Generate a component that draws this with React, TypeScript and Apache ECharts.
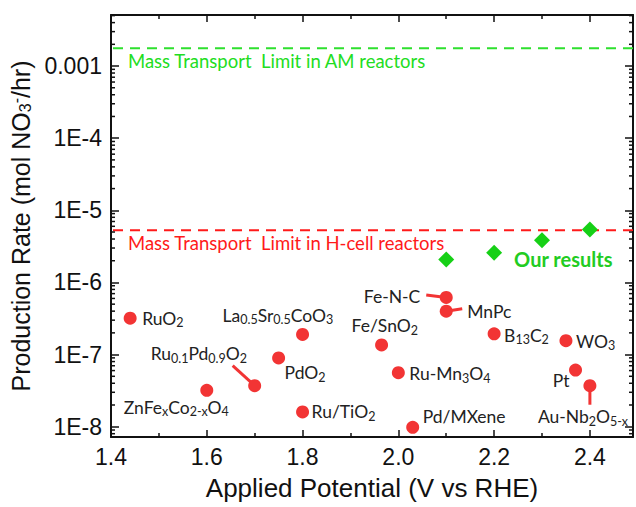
import React, { useEffect, useRef } from 'react';
import * as echarts from 'echarts';

// ---------- data ----------
const X_MIN = 1.4;
const X_MAX = 2.49;
const Y_MIN = 7.2e-9;
const Y_MAX = 5.1e-3;

const CATALYST_NAMES = [
  'RuO{s|2}',
  'La{s|0.5}Sr{s|0.5}CoO{s|3}',
  'PdO{s|2}',
  'Ru{s|0.1}Pd{s|0.9}O{s|2}',
  'ZnFe{s|x}Co{s|2-x}O{s|4}',
  'Ru/TiO{s|2}',
  'Fe/SnO{s|2}',
  'Ru-Mn{s|3}O{s|4}',
  'Pd/MXene',
  'Fe-N-C',
  'MnPc',
  'B{s|13}C{s|2}',
  'WO{s|3}',
  'Pt',
  'Au-Nb{s|2}O{s|5-x}',
];
const CATALYST_POTENTIAL = [1.44, 1.8, 1.75, 1.7, 1.6, 1.8, 1.965, 2.0, 2.03, 2.1, 2.1, 2.2, 2.35, 2.37, 2.4];
const CATALYST_RATE = [3.2e-7, 1.9e-7, 9.0e-8, 3.7e-8, 3.2e-8, 1.6e-8, 1.36e-7, 5.6e-8, 9.8e-9, 6.2e-7, 4.0e-7, 1.94e-7, 1.56e-7, 6.1e-8, 3.7e-8];

const OUR_POTENTIAL = [2.1, 2.2, 2.3, 2.4];
const OUR_RATE = [2.08e-6, 2.59e-6, 3.83e-6, 5.4e-6];
const OUR_LABEL = 'Our results';

const LIMIT_VALUES = [1.76e-3, 5.27e-6];
const LIMIT_TEXTS = ['Mass Transport  Limit in AM reactors', 'Mass Transport  Limit in H-cell reactors'];

const X_LABEL = 'Applied Potential (V vs RHE)';
const Y_LABEL = 'Production Rate (mol NO{sub|3}{sup|-}/hr)';

const MINOR_MULTIPLIERS = [2, 3, 4, 5, 6, 7, 8, 9];
const DECADES = [-9, -8, -7, -6, -5, -4, -3];

// ---------- styles / layout ----------
// label anchor offsets from the point centre [dx, dy, align]
const LABEL_OFFSETS: [number, number, string][] = [
  [12, 0, 'left'],
  [-80, -19, 'left'],
  [6, 15, 'left'],
  [-104, -32, 'left'],
  [-83, 17, 'left'],
  [9, 0, 'left'],
  [-30, -19, 'left'],
  [11, 1, 'left'],
  [10, -11, 'left'],
  [-26, -1, 'right'],
  [21, 0, 'left'],
  [10, 1.5, 'left'],
  [10, 0.5, 'left'],
  [-6, 10, 'right'],
  [-52, 31, 'left'],
];
// leader lines: [catalyst index, dx, dy]
const LEADERS: [number, number, number][] = [
  [3, -22, -20],
  [9, -20, -2.4],
  [10, 16, -2.4],
  [14, 0, 19],
];

const RED = '#f23434';
const LIMIT_LINE_COLORS = ['#2ee02e', '#ff1a1a'];
const LIMIT_TEXT_COLORS = ['#22dd22', '#ff1a1a'];
const GREEN = '#16d016';
const TEXT = '#222222';
const ANNO_FONT = 'Lato, "Open Sans", sans-serif';
const AXIS_FONT = '"Liberation Sans", Arial, sans-serif';

const RICH = {
  m: { fontSize: 17.5, lineHeight: 22, fontFamily: ANNO_FONT, color: TEXT },
  s: { fontSize: 12.5, lineHeight: 14, verticalAlign: 'bottom', fontFamily: ANNO_FONT, color: TEXT },
};

function richName(name: string) {
  return name
    .split(/(\{s\|[^}]*\})/)
    .filter((p) => p.length > 0)
    .map((p) => (p.startsWith('{s|') ? p : `{m|${p}}`))
    .join('');
}

export default function App() {
  const ref = useRef<HTMLDivElement>(null);
  useEffect(() => {
    document.body.style.margin = '0';
    if (!ref.current) return;
    const chart = echarts.init(ref.current, null, { renderer: 'svg' });

    const minorTicks: number[][] = [];
    DECADES.forEach((d) =>
      MINOR_MULTIPLIERS.forEach((m) => {
        const v = m * Math.pow(10, d);
        if (v > Y_MIN && v < Y_MAX) minorTicks.push([X_MIN, v]);
      })
    );

    const catalystData = CATALYST_POTENTIAL.map((x, i) => {
      const [dx, dy, align] = LABEL_OFFSETS[i];
      return {
        value: [x, CATALYST_RATE[i]],
        label: {
          show: true,
          position: 'inside',
          align,
          verticalAlign: 'middle',
          offset: [dx, dy],
          formatter: richName(CATALYST_NAMES[i]),
          rich: RICH,
          color: TEXT,
        },
      };
    });

    const ourData = OUR_POTENTIAL.map((x, i) => ({
      value: [x, OUR_RATE[i]],
      label:
        i === 1
          ? {
              show: true,
              position: 'inside',
              align: 'left',
              verticalAlign: 'middle',
              offset: [20, 6],
              formatter: OUR_LABEL,
              color: '#22cc22',
              fontFamily: ANNO_FONT,
              fontWeight: 'bold',
              fontSize: 20,
            }
          : { show: false },
    }));

    const yLabelFmt = (v: number) => {
      const e = Math.round(Math.log10(v));
      if (e >= -3) return String(Number(Math.pow(10, e).toFixed(3)));
      return '1E' + e;
    };

    const tickStyle = { color: '#111', width: 1.5 };

    const option: any = {
      animation: false,
      backgroundColor: '#ffffff',
      grid: { left: 111, right: 3, top: 15, bottom: 70 },
      xAxis: [
        {
          type: 'value',
          min: X_MIN,
          max: X_MAX,
          interval: 0.2,
          name: X_LABEL,
          nameLocation: 'middle',
          nameGap: 38,
          nameTextStyle: { fontSize: 26, fontFamily: AXIS_FONT, color: '#111' },
          axisLine: { lineStyle: { color: '#111', width: 2 } },
          axisTick: { inside: true, length: 7, lineStyle: tickStyle },
          minorTick: { show: true, splitNumber: 2, length: 4, lineStyle: tickStyle },
          axisLabel: {
            fontSize: 23,
            fontFamily: AXIS_FONT,
            color: '#111',
            margin: 8,
            showMaxLabel: false,
            formatter: (v: number) => v.toFixed(1),
          },
          splitLine: { show: false },
        },
        {
          type: 'value',
          position: 'top',
          min: X_MIN,
          max: X_MAX,
          interval: 0.2,
          axisLine: { lineStyle: { color: '#111', width: 2 } },
          axisTick: { inside: true, length: 7, lineStyle: tickStyle },
          minorTick: { show: true, splitNumber: 2, length: 4, lineStyle: tickStyle },
          axisLabel: { show: false },
          splitLine: { show: false },
        },
      ],
      yAxis: [
        {
          type: 'log',
          logBase: 10,
          min: Y_MIN,
          max: Y_MAX,
          name: Y_LABEL,
          nameLocation: 'middle',
          nameGap: 76,
          nameRotate: 90,
          nameTextStyle: {
            fontSize: 25,
            fontFamily: AXIS_FONT,
            color: '#111',
            rich: {
              sub: { fontSize: 16, fontFamily: AXIS_FONT, color: '#111', verticalAlign: 'bottom', lineHeight: 16 },
              sup: { fontSize: 16, fontFamily: AXIS_FONT, color: '#111', verticalAlign: 'top', lineHeight: 16 },
            },
          },
          axisLine: { lineStyle: { color: '#111', width: 2 } },
          axisTick: { inside: true, length: 8, lineStyle: tickStyle },
          axisLabel: {
            fontSize: 23,
            fontFamily: AXIS_FONT,
            color: '#111',
            margin: 9,
            showMinLabel: false,
            showMaxLabel: false,
            formatter: yLabelFmt,
          },
          splitLine: { show: false },
        },
        {
          type: 'log',
          logBase: 10,
          position: 'right',
          min: Y_MIN,
          max: Y_MAX,
          axisLine: { lineStyle: { color: '#111', width: 2 } },
          axisTick: { inside: true, length: 8, lineStyle: tickStyle },
          axisLabel: { show: false },
          splitLine: { show: false },
        },
      ],
      series: [
        {
          type: 'custom',
          name: 'minor ticks',
          silent: true,
          data: minorTicks,
          encode: { x: 0, y: 1 },
          renderItem: (params: any, api: any) => {
            const pt = api.coord([api.value(0), api.value(1)]);
            const cs = params.coordSys;
            const style = { stroke: '#111', lineWidth: 1.5 };
            return {
              type: 'group',
              children: [
                { type: 'line', shape: { x1: cs.x, y1: pt[1], x2: cs.x + 4, y2: pt[1] }, style },
                { type: 'line', shape: { x1: cs.x + cs.width - 4, y1: pt[1], x2: cs.x + cs.width, y2: pt[1] }, style },
              ],
            };
          },
        },
        {
          type: 'custom',
          name: 'limits',
          silent: true,
          data: LIMIT_VALUES.map((v) => [X_MIN, v]),
          encode: { x: 0, y: 1 },
          z: 1,
          renderItem: (params: any, api: any) => {
            const i = params.dataIndex;
            const pt = api.coord([api.value(0), api.value(1)]);
            const cs = params.coordSys;
            return {
              type: 'group',
              children: [
                {
                  type: 'line',
                  shape: { x1: cs.x + 2, y1: pt[1], x2: cs.x + cs.width, y2: pt[1] },
                  style: { stroke: LIMIT_LINE_COLORS[i], lineWidth: 2, lineDash: [10, 7] },
                },
                {
                  type: 'text',
                  x: cs.x + 17,
                  y: pt[1] + 13,
                  style: {
                    text: LIMIT_TEXTS[i],
                    fill: LIMIT_TEXT_COLORS[i],
                    font: `18.5px ${ANNO_FONT}`,
                    verticalAlign: 'middle',
                    align: 'left',
                  },
                },
              ],
            };
          },
        },
        {
          type: 'custom',
          name: 'leaders',
          silent: true,
          data: LEADERS.map(([idx, dx, dy]) => [CATALYST_POTENTIAL[idx], CATALYST_RATE[idx], dx, dy]),
          encode: { x: 0, y: 1 },
          renderItem: (params: any, api: any) => {
            const pt = api.coord([api.value(0), api.value(1)]);
            return {
              type: 'line',
              shape: { x1: pt[0], y1: pt[1], x2: pt[0] + api.value(2), y2: pt[1] + api.value(3) },
              style: { stroke: RED, lineWidth: 3 },
            };
          },
        },
        {
          type: 'scatter',
          name: 'Literature',
          symbol: 'circle',
          symbolSize: 13,
          itemStyle: { color: RED, opacity: 1 },
          data: catalystData,
          z: 3,
        },
        {
          type: 'scatter',
          name: 'Our results',
          symbol: 'diamond',
          symbolSize: 16,
          itemStyle: { color: GREEN, opacity: 1 },
          data: ourData,
          z: 4,
        },
      ],
    };
    chart.setOption(option);
    return () => chart.dispose();
  }, []);
  return <div ref={ref} style={{ width: 636, height: 507 }} />;
}
